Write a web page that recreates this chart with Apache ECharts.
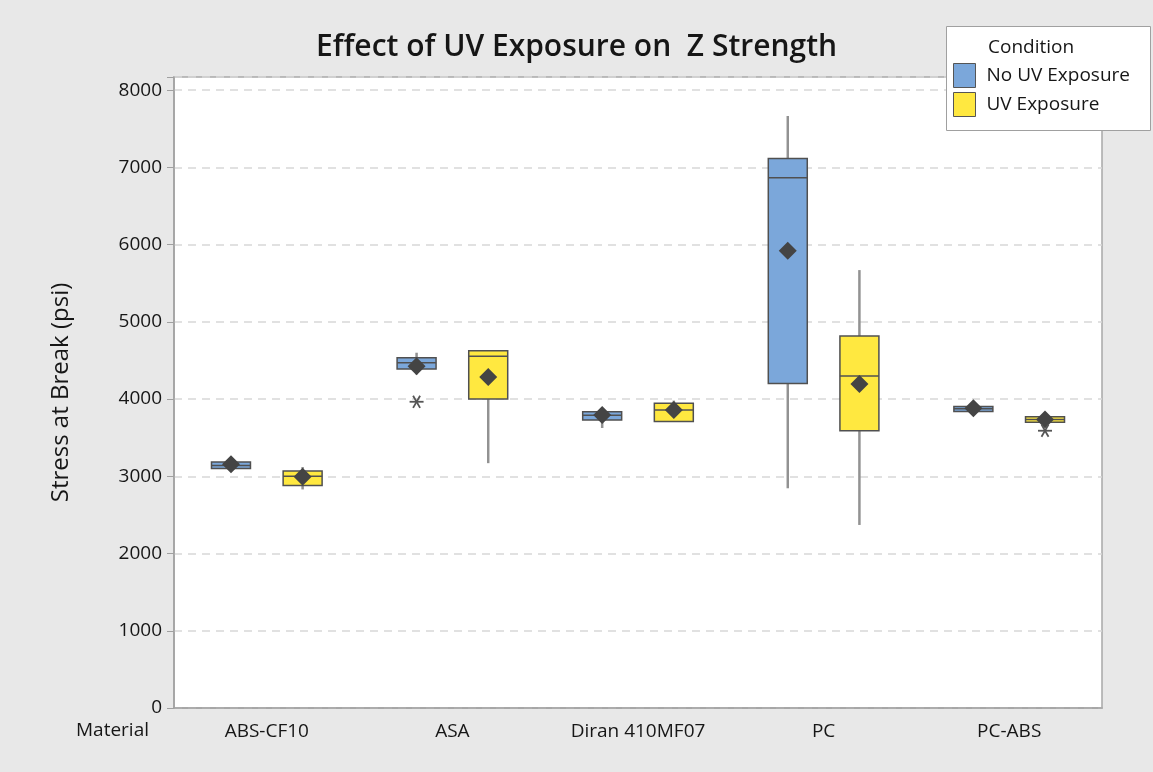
<!DOCTYPE html>
<html>
<head>
<meta charset="utf-8">
<script src="https://cdn.jsdelivr.net/npm/echarts@6/dist/echarts.min.js"></script>
<style>
  html, body { margin: 0; padding: 0; background: #e8e8e8; }
  #chart { width: 1153px; height: 772px; }
</style>
</head>
<body>
<div id="chart"></div>
<script>
// data
const categories = ["ABS-CF10", "ASA", "Diran 410MF07", "PC", "PC-ABS"];
const yTicks = [0, 1000, 2000, 3000, 4000, 5000, 6000, 7000, 8000];

// [min, q1, median, q3, max] per material
const noUvBoxes = [
  [3090, 3100, 3140, 3185, 3200],
  [4320, 4390, 4470, 4535, 4600],
  [3625, 3730, 3790, 3835, 3870],
  [2845, 4200, 6865, 7115, 7665],
  [3840, 3840, 3875, 3905, 3960]
];
const uvBoxes = [
  [2830, 2880, 3000, 3070, 3120],
  [3170, 4000, 4555, 4625, 4625],
  [3706, 3710, 3860, 3945, 3980],
  [2370, 3590, 4300, 4815, 5670],
  [3680, 3700, 3735, 3770, 3830]
];
const noUvMeans = [3155, 4425, 3795, 5920, 3880];
const uvMeans = [2995, 4285, 3858, 4195, 3737];
// [categoryIndex, value]
const noUvOutliers = [[1, 3965]];
const uvOutliers = [[4, 3590]];

const seriesNames = ["No UV Exposure", "UV Exposure"];
const boxColors = ["#7ba7da", "#ffe840"];

const chart = echarts.init(document.getElementById("chart"));

function boxData(boxes, means) {
  return boxes.map((b, i) => [i].concat(b, [means[i]]));
}

function renderBox(offset) {
  return function (params, api) {
    const band = api.size([1, 0])[0];
    const cx = api.coord([api.value(0), 0])[0] + offset * band;
    const w = band * 0.21;
    const y = (k) => api.coord([api.value(0), api.value(k)])[1];
    const yMin = y(1), yQ1 = y(2), yMed = y(3), yQ3 = y(4), yMax = y(5), yMean = y(6);
    const d = 9;
    return {
      type: "group",
      children: [
        { type: "line", shape: { x1: cx, y1: yQ3, x2: cx, y2: yMax },
          style: { stroke: "#929292", lineWidth: 2.5 } },
        { type: "line", shape: { x1: cx, y1: yQ1, x2: cx, y2: yMin },
          style: { stroke: "#929292", lineWidth: 2.5 } },
        { type: "rect", shape: { x: cx - w / 2, y: yQ3, width: w, height: Math.max(yQ1 - yQ3, 1) },
          style: { fill: api.visual("color"), stroke: "#505050", lineWidth: 1.5 } },
        { type: "line", shape: { x1: cx - w / 2, y1: yMed, x2: cx + w / 2, y2: yMed },
          style: { stroke: "#505050", lineWidth: 1.5 } },
        { type: "polygon", shape: { points: [[cx, yMean - d], [cx + d, yMean], [cx, yMean + d], [cx - d, yMean]] },
          style: { fill: "#444" } }
      ]
    };
  };
}

function renderStar(offset) {
  return function (params, api) {
    const band = api.size([1, 0])[0];
    const p = api.coord([api.value(0), api.value(1)]);
    const cx = p[0] + offset * band, cy = p[1];
    const r = 7;
    const lines = [0, 60, 120].map((a) => {
      const rad = a * Math.PI / 180;
      return { type: "line",
        shape: { x1: cx - r * Math.cos(rad), y1: cy - r * Math.sin(rad), x2: cx + r * Math.cos(rad), y2: cy + r * Math.sin(rad) },
        style: { stroke: "#555", lineWidth: 1.8 } };
    });
    return { type: "group", children: lines };
  };
}

const font = "'Open Sans', 'Noto Sans', sans-serif";
const ink = "#161616";

chart.setOption({
  backgroundColor: "#e8e8e8",
  textStyle: { fontFamily: font },
  title: {
    text: "Effect of UV Exposure on  Z Strength",
    left: "center",
    top: 27,
    textStyle: { fontFamily: font, fontSize: 30, fontWeight: 600, color: ink }
  },
  legend: {
    data: seriesNames,
    orient: "vertical",
    left: 953,
    top: 63,
    padding: 0,
    itemGap: 4,
    itemWidth: 22,
    itemHeight: 24,
    icon: "rect",
    itemStyle: { borderColor: "#555", borderWidth: 1 },
    textStyle: { fontFamily: font, fontSize: 19, color: ink, padding: [0, 0, 0, 6] },
    selectedMode: false,
    z: 10
  },
  graphic: [
    { type: "rect", left: 946, top: 26, z: 5,
      shape: { width: 204, height: 104 },
      style: { fill: "#fff", stroke: "#a0a0a0", lineWidth: 1 } },
    { type: "text", left: 988, top: 38, z: 6,
      style: { text: "Condition", font: "19px " + font, fill: ink } },
    { type: "text", left: 76, top: 721, z: 6,
      style: { text: "Material", font: "19px " + font, fill: ink } }
  ],
  grid: {
    left: 174, right: 51, top: 77, bottom: 64,
    show: true, backgroundColor: "#fff", borderColor: "#a8a8a8", borderWidth: 1.5
  },
  xAxis: {
    type: "category",
    data: categories,
    axisLine: { show: true, lineStyle: { color: "#a0a0a0", width: 1.5 } },
    axisTick: { alignWithLabel: true, length: 6, lineStyle: { color: "#a0a0a0" } },
    axisLabel: { fontFamily: font, fontSize: 19, color: ink, margin: 14 },
    splitLine: { show: false }
  },
  yAxis: {
    type: "value",
    min: 0,
    max: 8170,
    interval: 1000,
    name: "Stress at Break (psi)",
    nameLocation: "middle",
    nameGap: 101,
    nameTextStyle: { fontFamily: font, fontSize: 24, color: ink },
    axisLine: { show: true, lineStyle: { color: "#a0a0a0", width: 1.5 } },
    axisTick: { show: true, length: 7, lineStyle: { color: "#a0a0a0" } },
    axisLabel: {
      fontFamily: font, fontSize: 19, color: ink, margin: 12,
      formatter: (v) => (yTicks.indexOf(v) >= 0 ? String(v) : "")
    },
    splitLine: { show: true, lineStyle: { color: "#d8d8d8", type: [8, 6], width: 1.5 } }
  },
  series: [
    { name: seriesNames[0], type: "custom", renderItem: renderBox(-0.193),
      itemStyle: { color: boxColors[0] }, encode: { x: 0, y: [1, 2, 3, 4, 5, 6] },
      data: boxData(noUvBoxes, noUvMeans), z: 3 },
    { name: seriesNames[1], type: "custom", renderItem: renderBox(0.193),
      itemStyle: { color: boxColors[1] }, encode: { x: 0, y: [1, 2, 3, 4, 5, 6] },
      data: boxData(uvBoxes, uvMeans), z: 3 },
    { name: "outliers-no-uv", type: "custom", renderItem: renderStar(-0.193),
      encode: { x: 0, y: 1 }, data: noUvOutliers, z: 3 },
    { name: "outliers-uv", type: "custom", renderItem: renderStar(0.193),
      encode: { x: 0, y: 1 }, data: uvOutliers, z: 3 }
  ]
});
</script>
</body>
</html>
